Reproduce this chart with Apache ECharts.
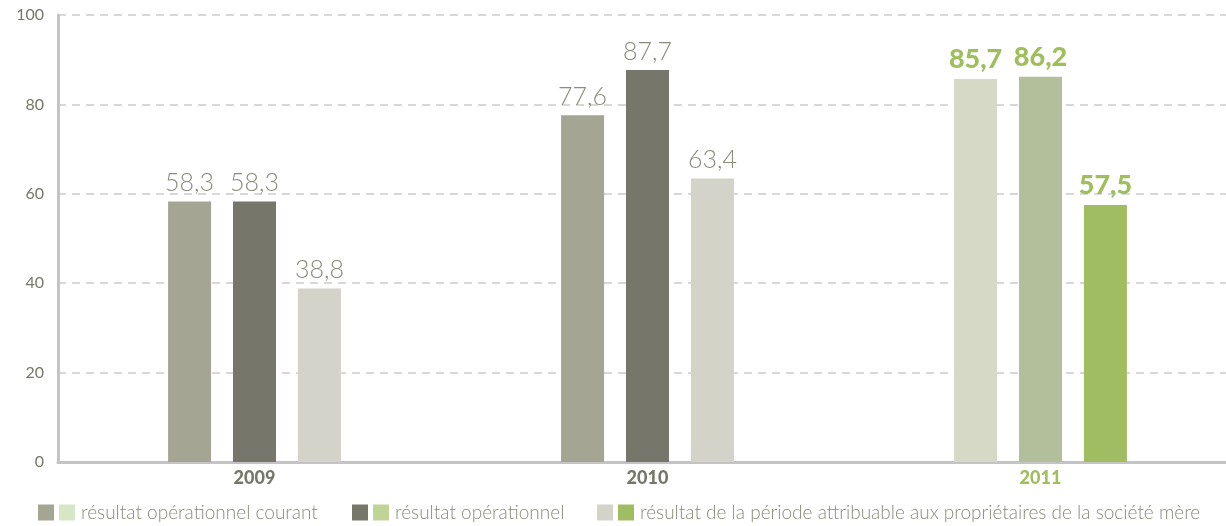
<!DOCTYPE html>
<html>
<head>
<meta charset="utf-8">
<script src="https://cdn.jsdelivr.net/npm/echarts@6/dist/echarts.min.js"></script>
<style>
  html, body { margin: 0; padding: 0; background: #fff; }
  #main { width: 1226px; height: 526px; }
</style>
</head>
<body>
<div id="main"></div>
<script>
// données
const years = ['2009', '2010', '2011'];
const seriesNames = [
    'résultat opérationnel courant',
    'résultat opérationnel',
    'résultat de la période attribuable aux propriétaires de la société mère'
];
const resOpCourant = [58.3, 77.6, 85.7];
const resOp = [58.3, 87.7, 86.2];
const resPeriode = [38.8, 63.4, 57.5];
const yTicks = [0, 20, 40, 60, 80, 100];

// couleurs : gris pour 2009/2010, vert pour 2011
const greyColors = ['#a4a592', '#76776a', '#d3d3ca'];
const greenColors = ['#d5d9c5', '#b3bf9b', '#a1bd62'];
const legendGreens = ['#d8e6c5', '#c0d497', '#a1bd62'];
const labelGrey = '#8a8b7a';
const labelGreen = '#9fbe5c';

const font = 'Lato, "Open Sans", sans-serif';

const chart = echarts.init(document.getElementById('main'));

function buildData(values, k) {
    return values.map(function (v, i) {
        const last = i === years.length - 1;
        return {
            value: v,
            itemStyle: { color: last ? greenColors[k] : greyColors[k] },
            label: last ? { color: labelGreen, fontWeight: 900, fontSize: 27 } : {}
        };
    });
}

const allValues = [resOpCourant, resOp, resPeriode];

const series = allValues.map(function (vals, k) {
    return {
        name: seriesNames[k],
        type: 'bar',
        barWidth: 43,
        barGap: '51%',
        itemStyle: { color: greyColors[k] },
        label: {
            show: true,
            position: 'top',
            distance: 6,
            fontFamily: font,
            fontSize: 25,
            fontWeight: 300,
            color: labelGrey,
            formatter: function (p) {
                return String(p.value).replace('.', ',');
            }
        },
        data: buildData(vals, k)
    };
});

// légendes : un carré gris (icône) + un carré vert (rich text)
const legendLefts = [38, 352, 597];
const legends = seriesNames.map(function (name, k) {
    return {
        data: [name],
        left: legendLefts[k],
        top: 503,
        padding: 0,
        icon: 'rect',
        itemWidth: 16,
        itemHeight: 16,
        selectedMode: false,
        formatter: function (n) {
            return '{g|}{t|' + n + '}';
        },
        textStyle: {
            rich: {
                g: {
                    width: 16,
                    height: 16,
                    backgroundColor: legendGreens[k]
                },
                t: {
                    fontFamily: font,
                    fontSize: 19,
                    fontWeight: 300,
                    color: labelGrey,
                    padding: [0, 0, 0, 6]
                }
            }
        }
    };
});

const option = {
    backgroundColor: '#ffffff',
    animation: false,
    legend: legends,
    grid: {
        left: 58,
        right: -11,
        top: 15,
        bottom: 64,
        outerBoundsMode: 'none'
    },
    xAxis: {
        type: 'category',
        data: years,
        axisTick: { show: false },
        axisLine: {
            lineStyle: { color: '#c4c4c4', width: 3 }
        },
        axisLabel: {
            margin: 7,
            fontFamily: font,
            fontSize: 18,
            fontWeight: 900,
            color: function (value) {
                return value === '2011' ? labelGreen : '#76776a';
            }
        }
    },
    yAxis: {
        type: 'value',
        min: yTicks[0],
        max: yTicks[yTicks.length - 1],
        interval: 20,
        axisLine: {
            show: true,
            lineStyle: { color: '#c4c4c4', width: 3 }
        },
        axisTick: { show: false },
        axisLabel: {
            margin: 14,
            fontFamily: font,
            fontSize: 16,
            color: '#76776a'
        },
        splitLine: {
            lineStyle: {
                color: '#cccccc',
                width: 1.5,
                type: [8, 6]
            }
        }
    },
    series: series
};

chart.setOption(option);
</script>
</body>
</html>
